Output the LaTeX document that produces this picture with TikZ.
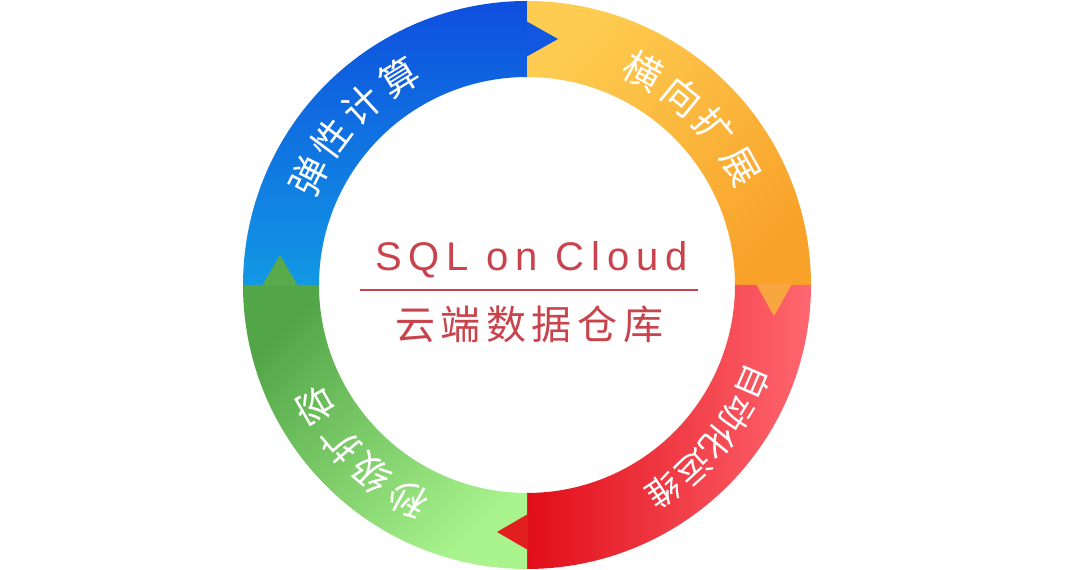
\documentclass[tikz,border=0pt]{standalone}
\usepackage{fontspec}
\setmainfont{Liberation Sans}
\newfontfamily\cjk{Noto Sans CJK SC}
\newfontfamily\sqlfont[LetterSpace=17]{Liberation Sans}
\newfontfamily\cjkspaced[LetterSpace=14]{Noto Sans CJK SC}
\usetikzlibrary{calc}
\definecolor{blueA}{HTML}{0E4EDE}
\definecolor{blueB}{HTML}{1299E4}
\definecolor{yelA}{HTML}{FDCC50}
\definecolor{yelB}{HTML}{F9A22A}
\definecolor{redA}{HTML}{E00D18}
\definecolor{redB}{HTML}{FF6770}
\definecolor{grnA}{HTML}{52A647}
\definecolor{grnB}{HTML}{AAF48E}
\definecolor{triBlue}{HTML}{1157E0}
\definecolor{triOrange}{HTML}{F9A640}
\definecolor{triRed}{HTML}{E21F1F}
\definecolor{triGreen}{HTML}{57AB4B}
\definecolor{txtRed}{HTML}{C8434B}
\tikzset{
  ringtxt/.style={text=white, inner sep=0pt, font=\cjk\fontsize{38}{44}\selectfont},
  ringtxtsmall/.style={text=white, inner sep=0pt, font=\cjk\fontsize{34}{40}\selectfont},
}
\begin{document}
\begin{tikzpicture}[x=1pt,y=1pt]
\useasboundingbox (0,0) rectangle (1080,570);
\fill[white] (0,0) rectangle (1080,570);
\coordinate (C) at (527,285);
% blue segment (top-left)
\shade[top color=blueA, bottom color=blueB]
  ([shift={(89.6:284)}]C) arc[start angle=89.6,end angle=180.4,radius=284pt]
  -- ([shift={(180.4:208)}]C) arc[start angle=180.4,end angle=89.6,radius=208pt] -- cycle;
% yellow segment (top-right)
\shade[top color=yelA, bottom color=yelB, shading angle=45]
  ([shift={(90:284)}]C) arc[start angle=90,end angle=-0.3,radius=284pt]
  -- ([shift={(-0.3:208)}]C) arc[start angle=-0.3,end angle=90,radius=208pt] -- cycle;
% red segment (bottom-right)
\shade[left color=redA, right color=redB]
  ([shift={(0:284)}]C) arc[start angle=0,end angle=-90.3,radius=284pt]
  -- ([shift={(-90.3:208)}]C) arc[start angle=-90.3,end angle=0,radius=208pt] -- cycle;
% green segment (bottom-left)
\shade[top color=grnA, bottom color=grnB, shading angle=45]
  ([shift={(180:284)}]C) arc[start angle=180,end angle=270,radius=284pt]
  -- ([shift={(270:208)}]C) arc[start angle=270,end angle=180,radius=208pt] -- cycle;
% arrow triangles
\coordinate (tb1) at (526,549); \coordinate (tb2) at (526,513); \coordinate (tb3) at (558,531);
\fill[triBlue] (tb1) -- (tb3) -- (tb2) -- cycle;
\coordinate (to1) at (756,286); \coordinate (to2) at (792,286); \coordinate (to3) at (774,254);
\fill[triOrange] (to1) -- (to3) -- (to2) -- cycle;
\coordinate (tr1) at (528,56); \coordinate (tr2) at (528,20); \coordinate (tr3) at (497,38);
\fill[triRed] (tr1) -- (tr3) -- (tr2) -- cycle;
\coordinate (tg1) at (262,284); \coordinate (tg2) at (298,284); \coordinate (tg3) at (280,315);
\fill[triGreen] (tg1) -- (tg3) -- (tg2) -- cycle;
% ring labels
\foreach \c/\a [count=\i] in {弹/153.5, 性/143.2, 计/132.6, 算/121.5}
  \node[ringtxt, rotate=\a-90] (b\i) at ([shift={(\a:244)}]C) {\c};
\foreach \c/\a [count=\i] in {横/61.5, 向/50.6, 扩/40, 展/29}
  \node[ringtxt, rotate=\a-90] (y\i) at ([shift={(\a:244)}]C) {\c};
\foreach \c/\a [count=\i] in {自/-23.3, 动/-31.5, 化/-39.4, 运/-47.6, 维/-56.5}
  \node[ringtxtsmall, rotate=\a-90] (r\i) at ([shift={(\a:247)}]C) {\c};
\foreach \c/\a [count=\i] in {秒/-119, 级/-129.8, 扩/-139.8, 容/-150.3}
  \node[ringtxt, rotate=\a-90] (g\i) at ([shift={(\a:245)}]C) {\c};
% centre text
\node[anchor=base west, inner sep=0pt, text=txtRed, font=\sqlfont\fontsize{40}{48}\selectfont] (title) at (375,299) {SQL on Cloud};
\coordinate (l1) at (360,280); \coordinate (l2) at (698,280);
\draw[txtRed, line width=2.5pt] (l1) -- (l2);
\node[anchor=west, inner sep=0pt, text=txtRed, font=\cjkspaced\fontsize{40}{48}\selectfont] (sub) at (395,246) {云端数据仓库};
\end{tikzpicture}
\end{document}
